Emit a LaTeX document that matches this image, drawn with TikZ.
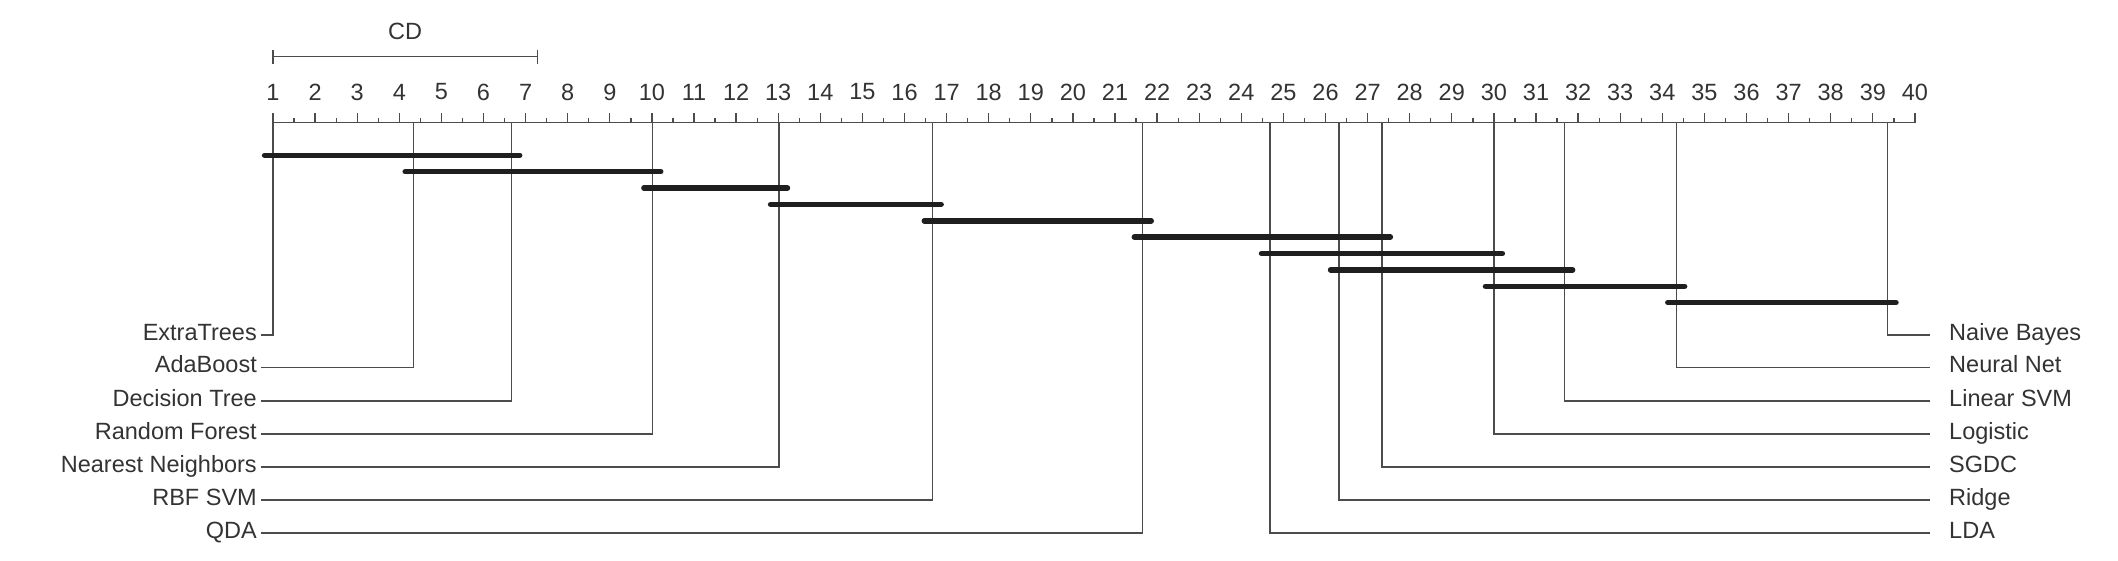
\documentclass[tikz,border=0pt]{standalone}
\usepackage{fontspec}
\setmainfont{Liberation Sans}
\begin{document}
\begin{tikzpicture}[x=1pt,y=-1pt,
  lbl/.style={font=\fontsize{23.5}{26}\selectfont, text=black!80, inner sep=0pt},
  ln/.style={draw=black!70, line width=1.3pt},
  grp/.style={draw=black!88, line width=5.5pt, line cap=round}]
\useasboundingbox (0,0) rectangle (2118,560);
\def\R#1{{273+(#1-1)*42.1}}
% axis
\draw[ln] (\R{1},122.7) -- (\R{40},122.7);
\foreach \i in {1,...,40}{
  \draw[ln] (\R{\i},122.7) -- (\R{\i},113);
  \node[lbl] (t\i) at (\R{\i},92) {\i};
}
\foreach \i in {1,...,39}{
  \draw[ln] (\R{\i+0.5},122.7) -- (\R{\i+0.5},118);
}
% CD
\coordinate (cda) at (\R{1},56.7);
\coordinate (cdb) at (\R{7.28},56.7);
\draw[ln] (cda) -- (cdb);
\draw[ln] ([yshift=-7]cda) -- ([yshift=7]cda);
\draw[ln] ([yshift=-7]cdb) -- ([yshift=7]cdb);
\node[lbl] (cd) at (\R{4.14},31) {CD};
% left methods
\foreach \r/\y/\t [count=\k] in {1/335/ExtraTrees,4.34/367.5/AdaBoost,6.66/401/Decision Tree,10.01/434/Random Forest,13.02/467/Nearest Neighbors,16.67/500/RBF SVM,21.66/533/QDA}{
  \coordinate (L\k) at (\R{\r},122.7);
  \node[lbl,anchor=east] (LL\k) at (257,\y) {\strut\t};
  \draw[ln] (L\k) |- ([xshift=4]LL\k.east);
}
% right methods
\foreach \r/\y/\t [count=\k] in {39.35/335/Naive Bayes,34.33/367.5/Neural Net,31.67/401/Linear SVM,30.0/434/Logistic,27.34/467/SGDC,26.32/500/Ridge,24.68/533/LDA}{
  \coordinate (Q\k) at (\R{\r},122.7);
  \node[lbl,anchor=west] (QQ\k) at (1949,\y) {\strut\t};
  \draw[ln] (Q\k) |- ([xshift=-19]QQ\k.west);
}
% groups
\foreach \a/\b [count=\k from 0] in {1/6.66,4.34/10.01,10.01/13.02,13.02/16.67,16.67/21.66,21.66/27.34,24.68/30.0,26.32/31.67,30.0/34.33,34.33/39.35}{
  \coordinate (ga\k) at (\R{\a-0.2},155.3+16.37*\k);
  \coordinate (gb\k) at (\R{\b+0.2},155.3+16.37*\k);
  \draw[grp] (ga\k) -- (gb\k);
}
\end{tikzpicture}
\end{document}
